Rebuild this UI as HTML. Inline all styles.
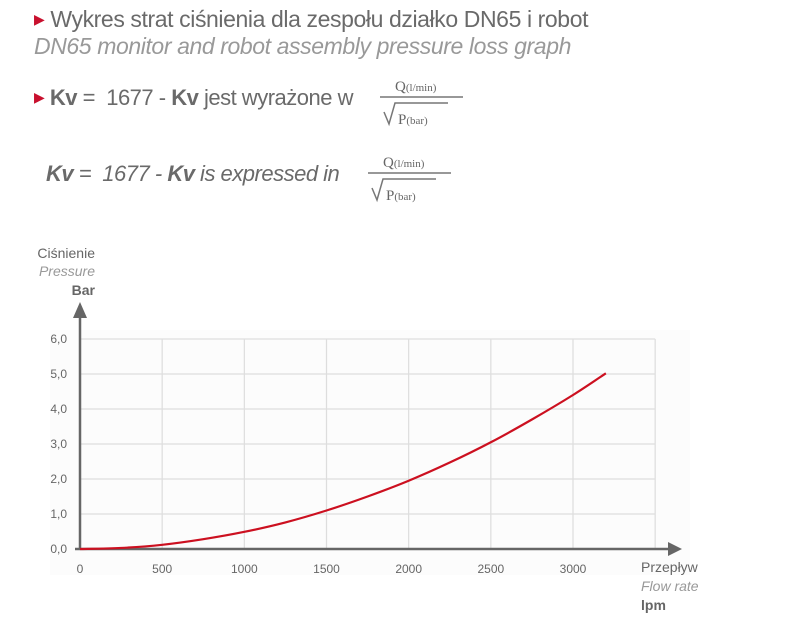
<!DOCTYPE html>
<html><head><meta charset="utf-8"><style>
body{margin:0;background:#fff;width:803px;height:634px;overflow:hidden;font-family:"Liberation Sans",sans-serif;color:#666}
.t{position:absolute;white-space:nowrap}
</style></head><body>
<div class="t" style="left:34px;top:6px;font-size:23px;color:#6a6a6a;letter-spacing:-0.4px"><span style="color:#c8102e;font-size:14px;vertical-align:3px">&#9654;</span> Wykres strat ciśnienia dla zespołu działko DN65 i robot</div>
<div class="t" style="left:34px;top:33px;font-size:23px;color:#999;font-style:italic;letter-spacing:-0.4px">DN65 monitor and robot assembly pressure loss graph</div>
<div class="t" style="left:34px;top:85px;font-size:22px;color:#6a6a6a;letter-spacing:-0.5px"><span style="color:#c8102e;font-size:14px;vertical-align:3px">&#9654;</span> <b>Kv</b> = &nbsp;1677 - <b>Kv</b> jest wyrażone w</div>
<div class="t" style="left:46px;top:161px;font-size:22px;color:#6a6a6a;font-style:italic;letter-spacing:-0.5px"><b>Kv</b> = &nbsp;1677 - <b>Kv</b> is expressed in</div>
<svg width="803" height="634" style="position:absolute;left:0;top:0" font-family="Liberation Serif,serif" fill="#666">
<g>
<text x="395" y="91" font-size="15">Q<tspan font-size="11">(l/min)</tspan></text>
<line x1="380" y1="97" x2="463" y2="97" stroke="#777" stroke-width="1.5"/>
<path d="M384 112 L389 124 L395 103 L448 103" stroke="#777" stroke-width="1.5" fill="none"/>
<text x="398" y="124" font-size="15">P<tspan font-size="11">(bar)</tspan></text>
</g>
<g>
<text x="383" y="167" font-size="15">Q<tspan font-size="11">(l/min)</tspan></text>
<line x1="368" y1="173" x2="451" y2="173" stroke="#777" stroke-width="1.5"/>
<path d="M372 188 L377 200 L383 179 L436 179" stroke="#777" stroke-width="1.5" fill="none"/>
<text x="386" y="200" font-size="15">P<tspan font-size="11">(bar)</tspan></text>
</g>
</svg>
<svg id="chart" width="803" height="634" style="position:absolute;left:0;top:0" font-family="Liberation Sans,sans-serif"></svg>
<script>
const xTicks=[0,500,1000,1500,2000,2500,3000];
const yTicks=[0,1,2,3,4,5,6];
const yLabels=["0,0","1,0","2,0","3,0","4,0","5,0","6,0"];
const flow=[0,250,500,750,1000,1250,1500,1750,2000,2250,2500,2750,3000,3200];
const pressure=[0,0.03,0.12,0.28,0.49,0.76,1.1,1.5,1.95,2.47,3.05,3.7,4.4,5.02];
const svg=document.getElementById('chart');
const NS='http://www.w3.org/2000/svg';
const X=v=>80+v*(493/3000);
const Y=v=>549-v*35;
function mk(t,a,p){const e=document.createElementNS(NS,t);for(const k in a)e.setAttribute(k,a[k]);(p||svg).appendChild(e);return e;}
const bg=mk('rect',{x:50,y:330,width:640,height:245,fill:'#fcfcfc'});


for(let v=0;v<=3500;v+=500){const l=mk('line',{x1:X(v),x2:X(v),y1:Y(6),y2:Y(0),stroke:'#ddd','stroke-width':1.2});

}
yTicks.forEach((v,i)=>{const l=mk('line',{x1:X(0),x2:X(3500),y1:Y(v),y2:Y(v),stroke:'#ddd','stroke-width':1.2});


const t=mk('text',{x:67,y:Y(v)+4,'text-anchor':'end','font-size':12,fill:'#666'});t.textContent=yLabels[i];

});
xTicks.forEach(v=>{const t=mk('text',{x:X(v),y:573,'text-anchor':'middle','font-size':12,fill:'#666'});t.textContent=v;

});
const ax=mk('path',{d:'M80 549 L668 549 M80 549 L80 318 M75 549 L80 549',stroke:'#666','stroke-width':2.5,fill:'none'});


const ar=mk('path',{d:'M668 542 L682 549 L668 556 Z M73 318 L80 302 L87 318 Z',fill:'#666'});


const pts=flow.map((f,i)=>[X(f),Y(pressure[i])]);
let d='M'+pts[0][0]+' '+pts[0][1];
for(let i=0;i<pts.length-1;i++){const p0=pts[Math.max(0,i-1)],p1=pts[i],p2=pts[i+1],p3=pts[Math.min(pts.length-1,i+2)];
d+=' C'+(p1[0]+(p2[0]-p0[0])/6)+' '+(p1[1]+(p2[1]-p0[1])/6)+' '+(p2[0]-(p3[0]-p1[0])/6)+' '+(p2[1]-(p3[1]-p1[1])/6)+' '+p2[0]+' '+p2[1];}
const pl=mk('path',{d:d,fill:'none',stroke:'#cc1020','stroke-width':2.2});


function lab(x,y,txt,st,name,anchor){const t=mk('text',{x:x,y:y,'text-anchor':anchor,'font-size':14,fill:st.c,'font-style':st.i?'italic':'normal','font-weight':st.b?'bold':'normal'});t.textContent=txt;

}
lab(95,258,'Ciśnienie',{c:'#666'},'y-axis-title-pl','end');
lab(95,276,'Pressure',{c:'#999',i:1},'y-axis-title-en','end');
lab(95,295,'Bar',{c:'#666',b:1},'y-axis-unit','end');
lab(641,572,'Przepływ',{c:'#666'},'x-axis-title-pl','start');
lab(641,591,'Flow rate',{c:'#999',i:1},'x-axis-title-en','start');
lab(641,610,'lpm',{c:'#666',b:1},'x-axis-unit','start');
</script>
</body></html>
